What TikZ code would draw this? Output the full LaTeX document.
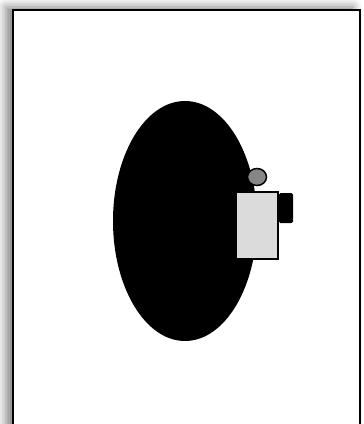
\documentclass[tikz,border=0pt]{standalone}
\usetikzlibrary{shadows.blur}
\begin{document}
\begin{tikzpicture}[x=1pt,y=-1pt,
  framebox/.style={draw=black,line width=2.5pt,fill=white,
    blur shadow={shadow xshift=-7pt,shadow yshift=3pt,shadow blur radius=9pt,shadow opacity=50}},
  headcirc/.style={draw=black,line width=1.5pt,fill=gray!95!white},
  bodybox/.style={draw=black,line width=1.8pt,fill=black!14},
  packbox/.style={fill=black,rounded corners=1.5pt}]
\useasboundingbox (0,0) rectangle (364,424);
\path[framebox] (13,10) rectangle (360,440);
\fill (185,221) ellipse [x radius=72, y radius=120];
\path[headcirc] (257,177) ellipse [x radius=9.5, y radius=8.5];
\path[packbox] (279,193) rectangle (293,223);
\path[bodybox] (236,192) rectangle (278,259);
\end{tikzpicture}
\end{document}
